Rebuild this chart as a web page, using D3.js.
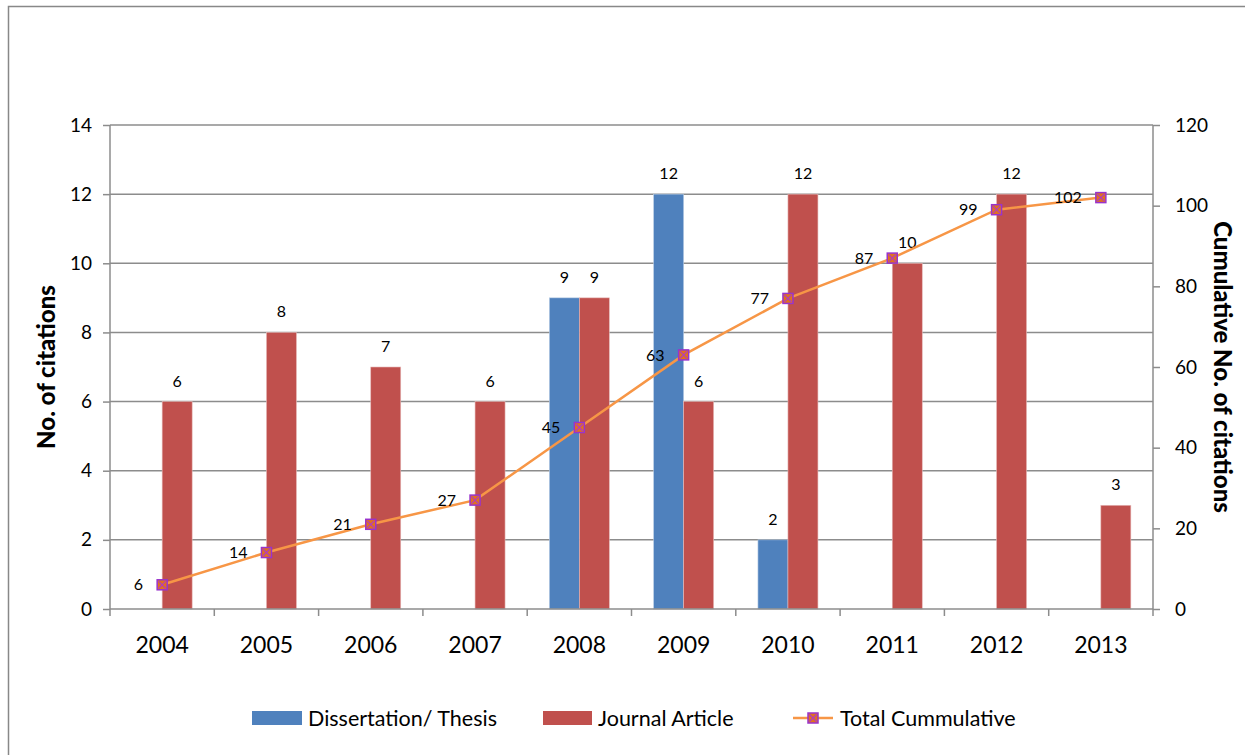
<!DOCTYPE html>
<html><head><meta charset="utf-8">
<script src="https://cdn.jsdelivr.net/npm/d3@7"></script>
<style>
body{margin:0;background:#fff;}
svg{display:block;font-family:Lato,"Open Sans",sans-serif;}
</style></head>
<body>
<svg id="c" width="1245" height="755"></svg>
<script>
const years = ["2004","2005","2006","2007","2008","2009","2010","2011","2012","2013"];
const thesis = [0,0,0,0,9,12,2,0,0,0];
const journal = [6,8,7,6,9,6,12,10,12,3];
const cumulative = [6,14,21,27,45,63,77,87,99,102];
const leftTicks = [0,2,4,6,8,10,12,14];
const rightTicks = [0,20,40,60,80,100,120];
const seriesNames = ["Dissertation/ Thesis","Journal Article","Total Cummulative"];

const svg = d3.select("#c");
const L=110,R=1153,T=125,B=609;
const blue="#4f81bd", red="#c0504d", orange="#f79646", purple="#9933cc", grid="#8c8c8c";

// outer border (left and top visible)
svg.append("path").attr("d",`M8.5,755 V6.5 H1245`).attr("fill","none").attr("stroke","#888").attr("stroke-width",1.5);

const x = d3.scaleBand().domain(years).range([L,R]);
const y = d3.scaleLinear().domain([0,14]).range([B,T]);
const y2 = d3.scaleLinear().domain([0,120]).range([B,T]);
const bw = 30;

// gridlines
svg.append("g").selectAll("line").data(leftTicks.filter(d=>d>0)).join("line")
  .attr("x1",L).attr("x2",R).attr("y1",d=>y(d)).attr("y2",d=>y(d))
  .attr("stroke",grid).attr("stroke-width",1.5);

// bars
const bars = svg.append("g");
years.forEach((yr,i)=>{
  const cx = x(yr)+x.bandwidth()/2;
  if(thesis[i]>0){
    bars.append("rect").attr("x",cx-bw).attr("y",y(thesis[i])).attr("width",bw).attr("height",B-y(thesis[i]))
      .attr("fill",blue).attr("stroke","#b9cde5").attr("stroke-width",0.6);
  }
  if(journal[i]>0){
    bars.append("rect").attr("x",cx).attr("y",y(journal[i])).attr("width",bw).attr("height",B-y(journal[i]))
      .attr("fill",red).attr("stroke","#e6b9b8").attr("stroke-width",0.6);
  }
});

// axes
const axL = d3.axisLeft(y).tickValues(leftTicks).tickSize(7).tickPadding(11);
const gL = svg.append("g").attr("transform",`translate(${L},0)`).call(axL);
const axR = d3.axisRight(y2).tickValues(rightTicks).tickSize(7).tickPadding(15);
const gR = svg.append("g").attr("transform",`translate(${R},0)`).call(axR);
[gL,gR].forEach(g=>{
  g.select(".domain").remove();
  g.selectAll("line").attr("stroke",grid).attr("stroke-width",1.5);
  g.selectAll("text").attr("font-size",19).attr("fill","#000").attr("font-family","Lato");
});
svg.append("line").attr("x1",L).attr("x2",L).attr("y1",T).attr("y2",B).attr("stroke",grid).attr("stroke-width",1.5);
svg.append("line").attr("x1",R).attr("x2",R).attr("y1",T).attr("y2",B).attr("stroke",grid).attr("stroke-width",1.5);

// x axis
const gX = svg.append("g").attr("transform",`translate(0,${B})`);
gX.append("line").attr("x1",L).attr("x2",R).attr("stroke",grid).attr("stroke-width",1.5);
const bounds = years.map(d=>x(d)).concat([x(years[years.length-1])+x.bandwidth()]);
gX.selectAll("line.t").data(bounds).join("line").attr("class","t")
  .attr("x1",d=>d).attr("x2",d=>d).attr("y1",0).attr("y2",7).attr("stroke",grid).attr("stroke-width",1.5);
gX.selectAll("text").data(years).join("text")
  .attr("x",d=>x(d)+x.bandwidth()/2).attr("y",44).attr("text-anchor","middle")
  .attr("font-size",23).text(d=>d);

// bar labels
years.forEach((yr,i)=>{
  const cx = x(yr)+x.bandwidth()/2;
  if(thesis[i]>0) svg.append("text").attr("x",cx-bw/2).attr("y",y(thesis[i])-15).attr("text-anchor","middle").attr("font-size",16).text(thesis[i]);
  if(journal[i]>0) svg.append("text").attr("x",cx+bw/2).attr("y",y(journal[i])-15).attr("text-anchor","middle").attr("font-size",16).text(journal[i]);
});

// line
const line = d3.line().x((d,i)=>x(years[i])+x.bandwidth()/2).y(d=>y2(d));
svg.append("path").datum(cumulative).attr("d",line).attr("fill","none").attr("stroke",orange).attr("stroke-width",2.5);

function marker(g,cx,cy){
  g.append("rect").attr("x",cx-5).attr("y",cy-5).attr("width",10).attr("height",10)
    .attr("fill","#e0711f").attr("stroke",purple).attr("stroke-width",1.5);
  g.append("path").attr("d",`M${cx-3.5},${cy-3.5}L${cx+3.5},${cy+3.5}M${cx+3.5},${cy-3.5}L${cx-3.5},${cy+3.5}`)
    .attr("stroke","#b03cc0").attr("stroke-width",1.2);
}
const mg = svg.append("g");
cumulative.forEach((v,i)=>{
  const cx = x(years[i])+x.bandwidth()/2, cy=y2(v);
  marker(mg,cx,cy);
  svg.append("text").attr("x",cx-19).attr("y",cy).attr("dy","0.35em").attr("text-anchor","end").attr("font-size",16).text(v);
});

// axis titles
svg.append("text").attr("transform",`translate(55,367) rotate(-90)`).attr("text-anchor","middle")
  .attr("font-size",24).attr("font-weight","900").text("No. of citations");
svg.append("text").attr("transform",`translate(1214,367) rotate(90)`).attr("text-anchor","middle")
  .attr("font-size",24).attr("font-weight","900").text("Cumulative No. of citations");

// legend
const lg = svg.append("g").attr("font-size",21.5);
lg.append("rect").attr("x",252).attr("y",711).attr("width",50).attr("height",14).attr("fill",blue);
lg.append("text").attr("x",308).attr("y",718).attr("dy","0.35em").text(seriesNames[0]);
lg.append("rect").attr("x",543).attr("y",711).attr("width",49).attr("height",14).attr("fill",red);
lg.append("text").attr("x",598).attr("y",718).attr("dy","0.35em").text(seriesNames[1]);
lg.append("line").attr("x1",793).attr("x2",833).attr("y1",718).attr("y2",718).attr("stroke",orange).attr("stroke-width",2.5);
marker(lg,813,718);
lg.append("text").attr("x",840).attr("y",718).attr("dy","0.35em").text(seriesNames[2]);
</script>
</body></html>
